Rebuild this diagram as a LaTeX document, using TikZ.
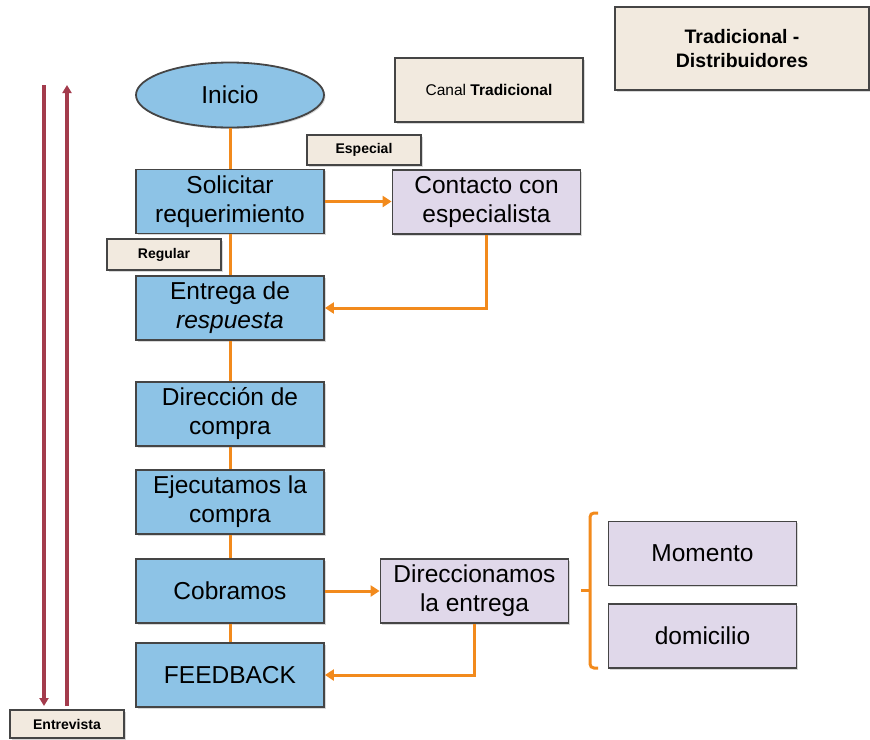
\documentclass[tikz,border=0pt]{standalone}
\usepackage{fontspec}
\setmainfont{Liberation Sans}
\usepackage{xcolor}
\definecolor{flblue}{HTML}{8DC3E6}
\definecolor{fllila}{HTML}{E0D8EA}
\definecolor{flbeige}{HTML}{F2EADF}
\definecolor{florange}{HTML}{F28A1C}
\definecolor{flred}{HTML}{A33B4C}
\definecolor{flgray}{HTML}{454545}
\usepackage{tikz}
\usetikzlibrary{shapes.geometric, arrows.meta, positioning, shadows}

\begin{document}
\begin{tikzpicture}[x=1pt, y=-1pt,
  paso/.style={rectangle, draw=flgray, fill=flblue, line width=1.8pt,
    minimum width=188pt, minimum height=64pt, align=center, inner sep=2pt,
    font=\fontsize{24.5}{29}\selectfont,
    drop shadow={shadow xshift=1.5pt, shadow yshift=-1.5pt, fill=black!30}},
  opcion/.style={paso, fill=fllila},
  etiqueta/.style={rectangle, draw=flgray, fill=flbeige, line width=1.8pt,
    align=center, inner sep=2pt, font=\bfseries\fontsize{14}{16}\selectfont,
    drop shadow={shadow xshift=1.5pt, shadow yshift=-1.5pt, fill=black!30}},
  flujo/.style={line width=3pt, draw=florange},
  flecha/.style={flujo, -{Triangle[length=9pt, width=11pt]}},
  ciclo/.style={line width=3.5pt, draw=flred, -{Triangle[length=8pt, width=9pt]}}
]
\useasboundingbox (0,0) rectangle (870,739);

% titulos
\node[etiqueta, minimum width=254pt, minimum height=83pt, font=\bfseries\fontsize{19.5}{24}\selectfont] (tit) at (742,48.5) {Tradicional -\\Distribuidores};
\node[etiqueta, minimum width=188pt, minimum height=64pt, font=\fontsize{15.5}{18}\selectfont] (canal) at (489,90) {Canal \textbf{Tradicional}};

% flujo principal
\node[paso, ellipse, minimum height=65pt] (ini) at (230,95) {Inicio};
\node[paso] (sol) at (230,201.5) {Solicitar\\requerimiento};
\node[paso] (ent) at (230,308) {Entrega de\\\textit{respuesta}};
\node[paso] (dir) at (230,414) {Dirección de\\compra};
\node[paso] (eje) at (230,502) {Ejecutamos la\\compra};
\node[paso] (cob) at (230,591) {Cobramos};
\node[paso] (fb) at (230,675) {FEEDBACK};

% ramas
\node[opcion] (con) at (486.5,202) {Contacto con\\especialista};
\node[opcion] (dire) at (474.5,591) {Direccionamos\\la entrega};
\node[opcion] (mom) at (702.5,553.5) {Momento};
\node[opcion] (dom) at (702.5,636) {domicilio};

\node[etiqueta, minimum width=114pt, minimum height=30pt] (esp) at (364,150) {Especial};
\node[etiqueta, minimum width=114pt, minimum height=31pt] (reg) at (164,254.5) {Regular};
\node[etiqueta, minimum width=114pt, minimum height=28pt] (entr) at (67,724) {Entrevista};

\draw[flujo] (ini) -- (sol) -- (ent) -- (dir) -- (eje) -- (cob) -- (fb);
\draw[flecha] (sol.east) -- (sol.east -| con.west);
\draw[flecha] (con.south) |- (ent.east);
\draw[flecha] (cob.east) -- (cob.east -| dire.west);
\draw[flecha] (dire.south) |- (fb.east);

% llave
\draw[flujo, rounded corners=4pt] (598,513) -- (590,513) -- (590,668) -- (598,668);
\draw[flujo] (590,590) -- (581,590);

% entrevista: ida y vuelta
\coordinate (baja0) at (44,85);
\coordinate (baja1) at (44,706);
\coordinate (sube0) at (67,706);
\coordinate (sube1) at (67,85);
\draw[ciclo] (baja0) -- (baja1);
\draw[ciclo] (sube0) -- (sube1);
\end{tikzpicture}
\end{document}
